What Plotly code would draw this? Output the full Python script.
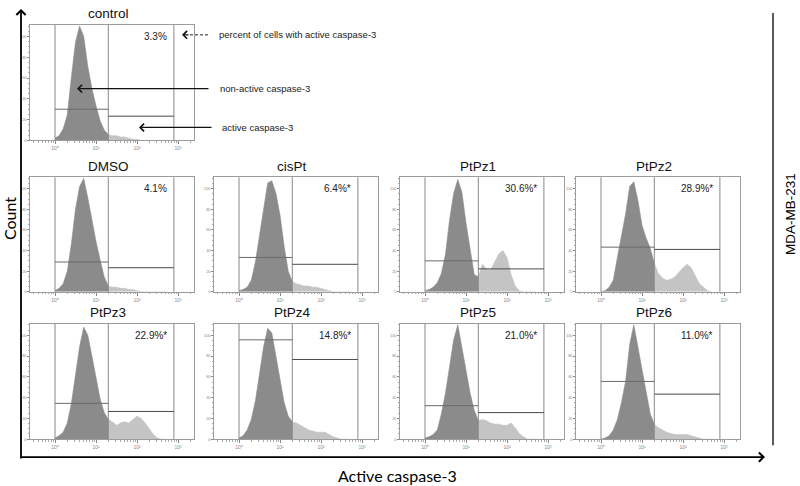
import numpy as np
import plotly.graph_objects as go

W, H = 800, 486

# ---------------- data ----------------
# x bins: decades above 10^0 on the log "Active caspase-3" axis
bins = [0.0, 0.1, 0.2, 0.3, 0.4, 0.5, 0.6, 0.7, 0.8, 0.9, 1.0, 1.1, 1.2, 1.3,
        1.4, 1.5, 1.6, 1.7, 1.8, 1.9, 2.0, 2.1, 2.2, 2.3, 2.4, 2.5, 2.6, 2.7]

panel_names = ["control", "DMSO", "cisPt", "PtPz1", "PtPz2",
               "PtPz3", "PtPz4", "PtPz5", "PtPz6"]

# histogram heights (% of panel maximum)
control = [2, 4, 10, 22, 55, 85, 99, 90, 64, 45, 30, 17, 9, 5, 4, 4, 3, 3, 2, 1, 1, 0, 0, 0, 0, 0, 0, 0]
dmso    = [1, 3, 7, 18, 42, 72, 92, 99, 82, 62, 44, 28, 13, 5, 4, 4, 3, 3, 2, 2, 1, 0, 0, 0, 0, 0, 0, 0]
cispt   = [1, 2, 4, 10, 26, 48, 72, 95, 97, 86, 67, 40, 18, 9, 7, 6, 5, 5, 4, 4, 3, 2, 1, 0, 0, 0, 0, 0]
ptpz1   = [1, 2, 4, 8, 16, 33, 63, 86, 98, 87, 60, 36, 15, 13, 24, 20, 19, 26, 33, 36, 30, 15, 5, 1, 0, 0, 0, 0]
ptpz2   = [0, 1, 4, 10, 30, 48, 68, 92, 96, 80, 58, 47, 38, 25, 16, 12, 10, 11, 13, 17, 21, 24, 21, 14, 7, 4, 1, 0]
ptpz3   = [1, 3, 6, 14, 31, 55, 80, 97, 90, 72, 52, 35, 23, 17, 15, 12, 14, 15, 14, 17, 20, 18, 14, 9, 4, 1, 0, 0]
ptpz4   = [1, 3, 8, 17, 33, 58, 80, 96, 92, 72, 50, 32, 20, 15, 14, 12, 10, 8, 7, 6, 6, 6, 4, 2, 1, 0, 0, 0]
ptpz5   = [1, 2, 4, 8, 22, 40, 63, 86, 99, 80, 61, 40, 25, 16, 17, 16, 14, 13, 13, 12, 12, 14, 10, 5, 2, 0, 0, 0]
ptpz6   = [0, 1, 3, 8, 17, 32, 50, 82, 99, 80, 58, 40, 22, 13, 10, 8, 6, 5, 4, 4, 4, 4, 3, 2, 1, 0, 0, 0]
counts = [control, dmso, cispt, ptpz1, ptpz2, ptpz3, ptpz4, ptpz5, ptpz6]

pct_labels = ["3.3%", "4.1%", "6.4%*", "30.6%*", "28.9%*",
              "22.9%*", "14.8%*", "21.0%*", "11.0%*"]

# gate marker heights (% of panel maximum): non-active gate, active gate
gate_nonactive = [27, 26, 30, 27, 39, 31, 86, 29, 50]
gate_active    = [21, 21, 24, 20, 37, 24, 69, 23, 39]

gate_edges = [0.0, 1.3, 2.9]          # gate borders in decades
x_tick_vals = [0, 1, 2, 3]
x_tick_text = ["10⁰", "10¹", "10²", "10³"]
y_tick_vals = [0, 18, 36, 54, 72, 90]
y_tick_text = ["0", "20", "40", "60", "80", "100"]

# ---------------- layout geometry (pixels) ----------------
col_gate_px = [55, 239, 425, 601]
dec_px = 41.0
xr = [-0.6, 3.4]
rows_px = [(25, 141), (178, 293), (325, 441)]
positions = [(0, 0), (1, 0), (1, 1), (1, 2), (1, 3), (2, 0), (2, 1), (2, 2), (2, 3)]

DARK = "#8b8b8b"
LIGHT = "#c4c4c4"
FRAME = "#9c9c9c"


def px(x):
    return x / W


def py(y):
    return 1 - y / H


minor_x = [np.log10(k) + n for n in range(-1, 4) for k in range(2, 10)]
minor_x = [v for v in minor_x if xr[0] < v < xr[1]]
minor_y = list(np.arange(0, 100, 4.5))

fig = go.Figure()
layout = dict(width=W, height=H, margin=dict(l=0, r=0, t=0, b=0),
              paper_bgcolor="white", plot_bgcolor="white", showlegend=False)
shapes = []
annotations = []

for k, name in enumerate(panel_names):
    r, c = positions[k]
    sid = "" if k == 0 else str(k + 1)
    xa, ya = "x" + sid, "y" + sid
    vals = counts[k]
    fig.add_trace(go.Scatter(x=bins[:14], y=vals[:14], xaxis=xa, yaxis=ya,
                             mode="lines", fill="tozeroy", fillcolor=DARK,
                             line=dict(width=0.6, color=DARK), hoverinfo="skip"))
    fig.add_trace(go.Scatter(x=bins[13:], y=vals[13:], xaxis=xa, yaxis=ya,
                             mode="lines", fill="tozeroy", fillcolor=LIGHT,
                             line=dict(width=0.6, color=LIGHT), hoverinfo="skip"))
    g = col_gate_px[c]
    x0 = g + xr[0] * dec_px
    x1 = g + xr[1] * dec_px
    top, bot = rows_px[r]
    layout["xaxis" + sid] = dict(
        domain=[px(x0), px(x1)], range=xr, anchor=ya,
        showline=True, mirror=True, linecolor=FRAME, linewidth=1,
        showgrid=False, zeroline=False,
        tickmode="array", tickvals=x_tick_vals, ticktext=x_tick_text,
        ticks="outside", ticklen=3, tickcolor="#888", tickwidth=1,
        tickfont=dict(size=5, color="#888", family="Liberation Sans"),
        minor=dict(tickmode="array", tickvals=minor_x, ticks="outside",
                   ticklen=1.5, tickcolor="#aaa"),
        fixedrange=True)
    layout["yaxis" + sid] = dict(
        domain=[py(bot), py(top)], range=[0, 100], anchor=xa,
        showline=True, mirror=True, linecolor=FRAME, linewidth=1,
        showgrid=False, zeroline=False,
        tickmode="array", tickvals=y_tick_vals, ticktext=y_tick_text,
        ticks="outside", ticklen=2, tickcolor="#888",
        tickfont=dict(size=4, color="#888", family="Liberation Sans"),
        minor=dict(tickmode="array", tickvals=minor_y, ticks="outside",
                   ticklen=1, tickcolor="#aaa"),
        fixedrange=True)
    for ge in gate_edges:
        shapes.append(dict(type="line", xref=xa, yref=ya + " domain",
                           x0=ge, x1=ge, y0=0, y1=1,
                           line=dict(color="#888888", width=1)))
    shapes.append(dict(type="line", xref=xa, yref=ya,
                       x0=gate_edges[0], x1=gate_edges[1],
                       y0=gate_nonactive[k], y1=gate_nonactive[k],
                       line=dict(color="#6a6a6a", width=1)))
    shapes.append(dict(type="line", xref=xa, yref=ya,
                       x0=gate_edges[1], x1=gate_edges[2],
                       y0=gate_active[k], y1=gate_active[k],
                       line=dict(color="#4a4a4a", width=1)))
    annotations.append(dict(xref=xa, yref=ya, x=gate_edges[1], y=100,
                            text=name, showarrow=False, xanchor="center",
                            yanchor="middle", yshift=11,
                            font=dict(size=13.5, color="#111",
                                      family="Liberation Sans")))
    annotations.append(dict(xref=xa, yref=ya, x=2.77, y=90, text=pct_labels[k],
                            showarrow=False, xanchor="right", yanchor="middle",
                            font=dict(size=10, color="#222",
                                      family="Liberation Sans")))

# ---------------- control explanations ----------------
note_font = dict(size=9.5, color="#222", family="Liberation Sans")
annotations += [
    dict(xref="paper", yref="paper", x=px(182), y=py(35), ax=8, ay=0,
         text="", showarrow=True, arrowhead=4, arrowwidth=1.3, arrowsize=1.15,
         arrowcolor="#111"),
    dict(xref="paper", yref="paper", x=px(217), y=py(35),
         text="percent of cells with active caspase-3", showarrow=False,
         xanchor="left", yanchor="middle", font=note_font),
    dict(xref="paper", yref="paper", x=px(77), y=py(89), ax=133, ay=0,
         text="", showarrow=True, arrowhead=4, arrowwidth=1.3, arrowsize=1.15,
         arrowcolor="#111"),
    dict(xref="paper", yref="paper", x=px(218), y=py(89),
         text="non-active caspase-3", showarrow=False, xanchor="left",
         yanchor="middle", font=note_font),
    dict(xref="paper", yref="paper", x=px(139), y=py(128), ax=74, ay=0,
         text="", showarrow=True, arrowhead=4, arrowwidth=1.3, arrowsize=1.15,
         arrowcolor="#111"),
    dict(xref="paper", yref="paper", x=px(220), y=py(128),
         text="active caspase-3", showarrow=False, xanchor="left",
         yanchor="middle", font=note_font),
]
shapes.append(dict(type="line", xref="paper", yref="paper",
                   x0=px(190), x1=px(208), y0=py(35), y1=py(35),
                   line=dict(color="#222", width=1, dash="3px,2px")))

# ---------------- outer axes and labels ----------------
annotations += [
    dict(xref="paper", yref="paper", x=px(21), y=py(9), ax=0, ay=451,
         text="", showarrow=True, arrowhead=4, arrowwidth=1.8, arrowsize=1.0,
         arrowcolor="#000"),
    dict(xref="paper", yref="paper", x=px(765), y=py(459), ax=-745, ay=0,
         text="", showarrow=True, arrowhead=4, arrowwidth=1.8, arrowsize=1.0,
         arrowcolor="#000"),
    dict(xref="paper", yref="paper", x=px(9), y=py(220), text="Count",
         textangle=-90, showarrow=False, xanchor="center", yanchor="middle",
         font=dict(size=16, color="#000", family="Lato")),
    dict(xref="paper", yref="paper", x=px(397), y=py(477),
         text="Active caspase-3", showarrow=False, xanchor="center",
         yanchor="middle", font=dict(size=16, color="#000", family="Lato")),
    dict(xref="paper", yref="paper", x=px(790), y=py(215), text="MDA-MB-231",
         textangle=-90, showarrow=False, xanchor="center", yanchor="middle",
         font=dict(size=13.5, color="#000", family="Liberation Sans")),
]
shapes.append(dict(type="line", xref="paper", yref="paper",
                   x0=px(773), x1=px(773), y0=py(13), y1=py(447),
                   line=dict(color="#000", width=1.3)))

layout["shapes"] = shapes
layout["annotations"] = annotations
fig.update_layout(**layout)
fig.write_html("out.html", config={"displayModeBar": False},
               post_script="document.body.style.margin='0px';document.body.style.overflow='hidden';")
